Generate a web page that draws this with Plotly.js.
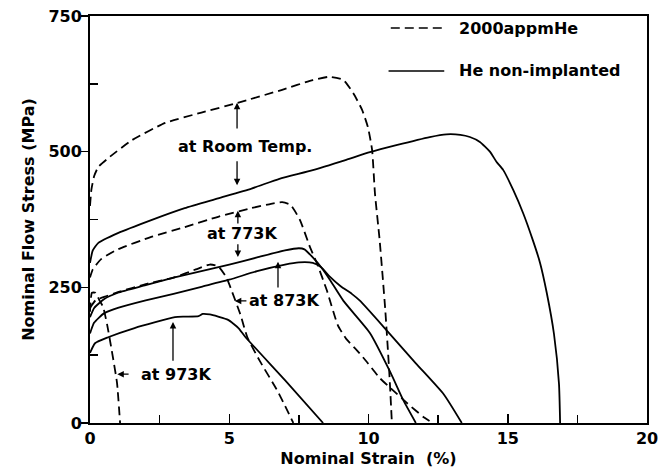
<!DOCTYPE html>
<html>
<head>
<meta charset="utf-8">
<script src="https://cdn.plot.ly/plotly-3.0.1.min.js"></script>
<style>html,body{margin:0;padding:0;background:#fff;}#chart{width:668px;height:468px;}</style>
</head>
<body>
<div id="chart"></div>
<script>
// Room temperature
var rtHeX  = [0, 0.05, 0.15, 0.3, 0.7, 1.5, 2.7, 4.0, 5.3, 6.9, 8.0, 8.6, 9.1, 9.45, 9.77, 9.98, 10.13, 10.23, 10.4, 10.6, 10.75, 10.84];
var rtHeY  = [400, 430, 455, 472, 490, 521, 553, 572, 590, 614, 632, 638, 632, 608, 577, 545, 503, 424, 337, 210, 90, 0];
var rtNonX = [0, 0.1, 0.3, 1.0, 2.2, 3.4, 4.6, 5.8, 6.8, 8.0, 9.2, 10.05, 11.0, 12.2, 12.8, 13.3, 13.64, 14.0, 14.36, 14.6, 14.84, 15.2, 15.55, 15.9, 16.16, 16.4, 16.66, 16.84, 16.88];
var rtNonY = [295, 318, 332, 350, 374, 396, 414, 432, 450, 466, 485, 499, 512, 527, 532, 531, 527, 518, 500, 481, 466, 429, 387, 337, 295, 240, 164, 72, 0];
// 773K
var k773HeX  = [0, 0.1, 0.4, 1.0, 2.2, 3.4, 4.6, 5.8, 6.5, 6.9, 7.2, 7.54, 7.9, 8.15, 8.5, 8.9, 9.2, 9.6, 9.95, 10.4, 10.8, 11.4, 12.0, 12.3];
var k773HeY  = [268, 283, 302, 320, 343, 361, 380, 396, 404, 407, 402, 374, 324, 294, 245, 180, 155, 133, 112, 83, 64, 36, 10, 0];
var k773NonX = [0, 0.15, 0.5, 1.0, 2.0, 3.0, 4.0, 5.0, 6.0, 7.0, 7.5, 7.7, 8.0, 8.3, 8.6, 9.1, 10.05, 10.8, 11.25, 11.7];
var k773NonY = [195, 212, 228, 240, 254, 268, 280, 292, 305, 318, 322, 320, 305, 287, 265, 225, 166, 92, 42, 0];
// 873K
var k873HeX  = [0, 0.2, 0.6, 1.0, 2.0, 3.0, 3.8, 4.3, 4.6, 4.9, 5.1, 5.4, 5.65, 6.1, 6.7, 7.0, 7.3];
var k873HeY  = [212, 226, 234, 241, 256, 268, 283, 292, 289, 268, 242, 200, 158, 114, 62, 32, 0];
var k873NonX = [0, 0.15, 0.5, 1.0, 2.0, 3.0, 4.0, 5.0, 6.0, 7.0, 7.5, 8.0, 8.3, 8.6, 9.0, 9.4, 9.7, 10.7, 11.7, 12.7, 13.35];
var k873NonY = [165, 185, 202, 212, 226, 238, 251, 264, 280, 292, 296, 295, 287, 270, 252, 238, 225, 168, 110, 53, 0];
// 973K
var k973HeX  = [0, 0.07, 0.2, 0.35, 0.47, 0.62, 0.8, 0.97, 1.08];
var k973HeY  = [205, 240, 240, 225, 214, 180, 128, 74, 0];
var k973NonX = [0, 0.18, 0.65, 1.6, 3.05, 3.4, 3.9, 4.05, 4.3, 4.6, 4.96, 5.33, 5.57, 7.0, 8.37];
var k973NonY = [129, 147, 158, 175, 195, 196, 197, 201, 200, 196, 190, 175, 159, 79, 0];

var xTicks = [0, 5, 10, 15, 20];
var yTicks = [0, 250, 500, 750];
var legendLabels = ['2000appmHe', 'He non-implanted'];

var FONT = 'DejaVu Sans, sans-serif';
function F(sz) { return {family: FONT, size: sz || 16, color: '#000', weight: 'bold'}; }
var DASH = '9px,5px';
function tr(x, y, dashed) {
  return {x: x, y: y, type: 'scatter', mode: 'lines', showlegend: false,
    line: {color: '#000', width: 1.8, dash: dashed ? DASH : 'solid', shape: 'spline', smoothing: 0.5},
    hoverinfo: 'skip'};
}
var data = [
  tr(rtHeX, rtHeY, true), tr(rtNonX, rtNonY, false),
  tr(k773HeX, k773HeY, true), tr(k773NonX, k773NonY, false),
  tr(k873HeX, k873HeY, true), tr(k873NonX, k873NonY, false),
  tr(k973HeX, k973HeY, true), tr(k973NonX, k973NonY, false)
];

function txt(x, y, s) {
  return {x: x, y: y, xref: 'x', yref: 'y', text: s, showarrow: false,
    font: F(16), xanchor: 'center', yanchor: 'middle'};
}
function arr(ax, ay, x, y) {
  return {x: x, y: y, ax: ax, ay: ay, xref: 'x', yref: 'y', axref: 'x', ayref: 'y',
    text: '', showarrow: true, arrowhead: 2, arrowsize: 1, arrowwidth: 1.3,
    arrowcolor: '#000', standoff: 0, startstandoff: 0};
}
var annotations = [
  txt(5.55, 509, 'at Room Temp.'),
  arr(5.28, 540, 5.28, 590), arr(5.28, 485, 5.28, 438),
  txt(5.44, 350, 'at 773K'),
  arr(5.31, 365, 5.31, 391), arr(5.31, 332, 5.31, 306),
  txt(6.97, 225, 'at 873K'),
  arr(5.67, 225, 5.2, 225), arr(6.75, 247, 6.75, 297),
  txt(3.1, 90, 'at 973K'),
  arr(2.98, 112, 2.98, 186), arr(1.44, 90, 0.98, 90),
  {x: 0.659, y: 0.9705, xref: 'paper', yref: 'paper', text: legendLabels[0], showarrow: false,
   xanchor: 'left', yanchor: 'middle', font: F(16)},
  {x: 0.659, y: 0.865, xref: 'paper', yref: 'paper', text: legendLabels[1], showarrow: false,
   xanchor: 'left', yanchor: 'middle', font: F(16)}
];
var shapes = [
  {type: 'line', xref: 'paper', yref: 'paper', x0: 0.540, x1: 0.636, y0: 0.9705, y1: 0.9705,
   line: {color: '#000', width: 1.6, dash: DASH}},
  {type: 'line', xref: 'paper', yref: 'paper', x0: 0.536, x1: 0.636, y0: 0.865, y1: 0.865,
   line: {color: '#000', width: 1.6}}
];

var layout = {
  width: 668, height: 468,
  margin: {l: 90, r: 21, t: 16, b: 45},
  paper_bgcolor: '#fff', plot_bgcolor: '#fff',
  font: F(16),
  showlegend: false,
  xaxis: {
    range: [0, 20], tickvals: xTicks, ticktext: xTicks.map(String),
    ticks: 'inside', ticklen: 9, tickwidth: 1.5, tickcolor: '#000',
    minor: {tickvals: [2.5, 7.5, 12.5, 17.5], ticks: 'inside', ticklen: 8, tickwidth: 1.5, tickcolor: '#000'},
    showgrid: false, zeroline: false, showline: true, linewidth: 2, linecolor: '#000', mirror: true,
    title: {text: 'Nominal Strain\u00a0\u00a0(%)', font: F(16), standoff: 8},
    tickfont: F(16), automargin: false, fixedrange: true
  },
  yaxis: {
    range: [0, 750], tickvals: yTicks, ticktext: yTicks.map(String),
    ticks: 'outside', ticklen: 7, tickwidth: 1.5, tickcolor: '#000',
    minor: {tickvals: [125, 375, 625], ticks: 'inside', ticklen: 8, tickwidth: 1.5, tickcolor: '#000'},
    showgrid: false, zeroline: false, showline: true, linewidth: 2, linecolor: '#000', mirror: true,
    ticklabelstandoff: -4,
    title: {text: 'Nominal Flow Stress (MPa)', font: F(16), standoff: 10},
    tickfont: F(16), automargin: false, fixedrange: true
  },
  annotations: annotations,
  shapes: shapes
};
Plotly.newPlot('chart', data, layout, {displayModeBar: false, staticPlot: true});
</script>
</body>
</html>
